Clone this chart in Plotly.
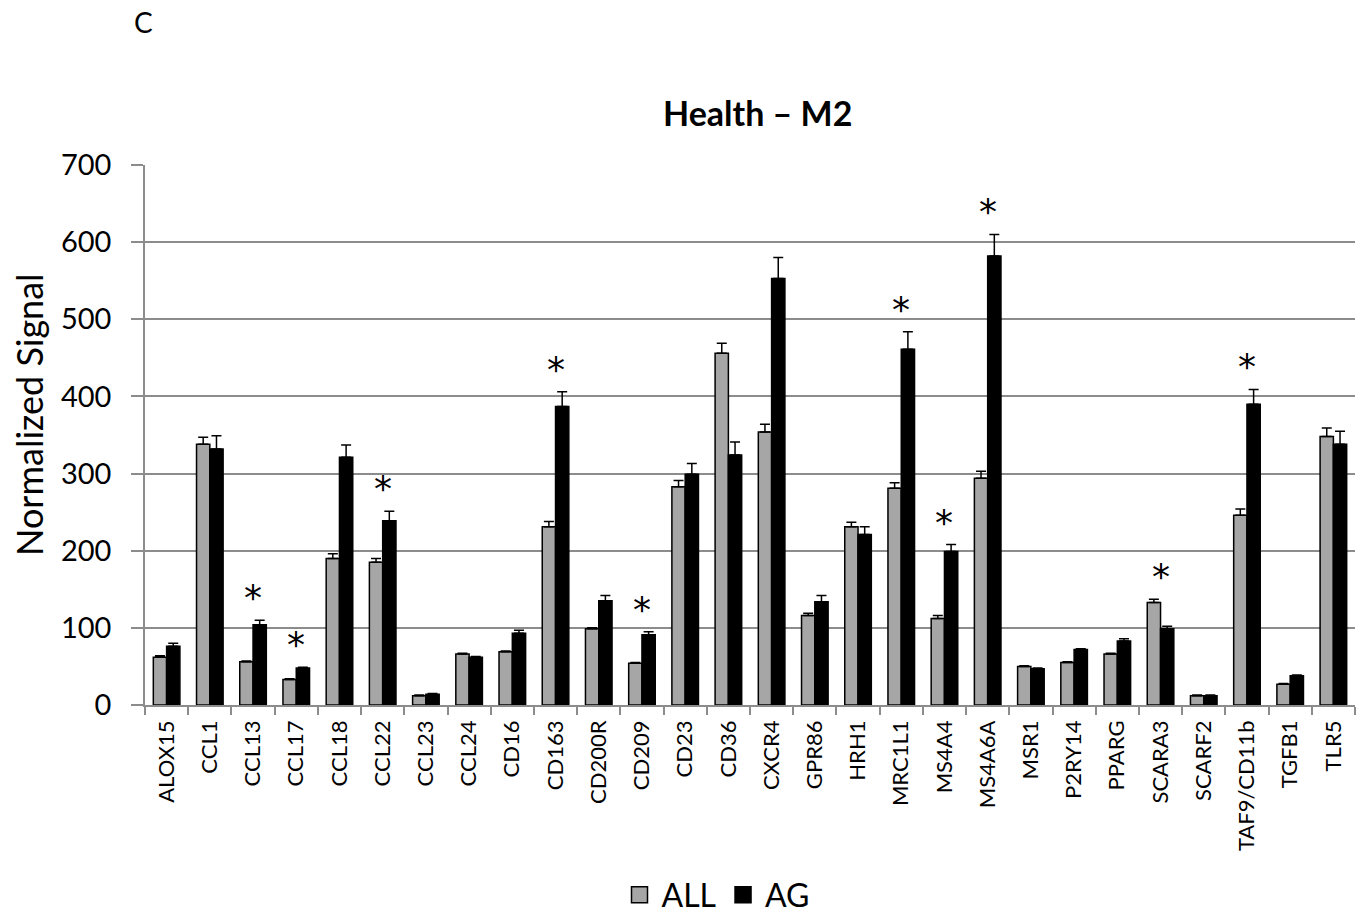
import plotly.graph_objects as go

genes = ["ALOX15", "CCL1", "CCL13", "CCL17", "CCL18", "CCL22", "CCL23", "CCL24", "CD16", "CD163",
         "CD200R", "CD209", "CD23", "CD36", "CXCR4", "GPR86", "HRH1", "MRC1L1", "MS4A4", "MS4A6A",
         "MSR1", "P2RY14", "PPARG", "SCARA3", "SCARF2", "TAF9/CD11b", "TGFB1", "TLR5"]
all_vals = [62, 338, 56, 33, 190, 185, 12, 66, 69, 231,
            99, 54, 283, 456, 354, 116, 231, 281, 112, 294,
            50, 55, 66, 133, 12, 246, 27, 348]
all_err = [2, 9, 1, 1, 6, 5, 1, 1, 1, 7,
           1, 1, 8, 13, 10, 3, 6, 7, 4, 9,
           1, 1, 1, 4, 1, 8, 1, 11]
ag_vals = [76, 332, 104, 48, 321, 239, 14, 62, 93, 387,
           135, 91, 299, 324, 553, 134, 221, 461, 199, 582,
           47, 72, 83, 99, 12, 390, 38, 338]
ag_err = [4, 17, 6, 1, 16, 12, 1, 1, 4, 19,
          7, 4, 14, 17, 27, 8, 10, 23, 9, 28,
          1, 1, 3, 3, 1, 19, 1, 17]
significant = ["CCL13", "CCL17", "CCL22", "CD163", "CD209", "MRC1L1", "MS4A4", "MS4A6A", "SCARA3", "TAF9/CD11b"]

FONT = "Lato, 'Open Sans', sans-serif"
GRID = "#8c8c8c"

W, H = 1364, 914
PL, PR, PT, PB = 145, 1355, 165, 705   # plot area in pixels
PW, PH = PR - PL, PB - PT


def px(xw):
    return (xw - PL) / PW


def py(yw):
    return (PB - yw) / PH


fig = go.Figure()
fig.add_trace(go.Bar(
    x=genes, y=all_vals, name="ALL", showlegend=False,
    marker=dict(color="#a6a6a6", line=dict(color="black", width=1.5)),
    error_y=dict(type="data", symmetric=False, array=all_err, arrayminus=[0] * len(all_err),
                 color="black", thickness=1.5, width=5),
))
fig.add_trace(go.Bar(
    x=genes, y=ag_vals, name="AG", showlegend=False,
    marker=dict(color="black", line=dict(color="black", width=1.5)),
    error_y=dict(type="data", symmetric=False, array=ag_err, arrayminus=[0] * len(ag_err),
                 color="black", thickness=1.5, width=5),
))
fig.add_trace(go.Scatter(x=[None], y=[None], mode="markers", name="ALL",
                         marker=dict(symbol="square", size=21, color="#a6a6a6",
                                     line=dict(color="black", width=1.5))))
fig.add_trace(go.Scatter(x=[None], y=[None], mode="markers", name="AG",
                         marker=dict(symbol="square", size=21, color="black",
                                     line=dict(color="black", width=1.5))))

for g in significant:
    i = genes.index(g)
    top = max(all_vals[i] + all_err[i], ag_vals[i] + ag_err[i])
    fig.add_annotation(x=g, y=top, text="*", showarrow=False, yanchor="bottom", yshift=0,
                       font=dict(size=36, color="black", family="DejaVu Sans"))

fig.add_annotation(xref="paper", yref="paper", x=px(143), y=py(22),
                   text="C", showarrow=False, xanchor="center", yanchor="middle",
                   font=dict(size=28, color="black", family=FONT))
fig.add_annotation(xref="paper", yref="paper", x=px(757), y=py(113),
                   text="<b>Health – M2</b>", showarrow=False, xanchor="center", yanchor="middle",
                   font=dict(size=34, color="black", family=FONT))
fig.add_annotation(xref="paper", yref="paper", x=px(29), y=py(415),
                   text="Normalized Signal", showarrow=False, textangle=-90,
                   xanchor="center", yanchor="middle",
                   font=dict(size=36, color="black", family=FONT))

fig.update_layout(
    width=W, height=H,
    margin=dict(l=PL, r=W - PR, t=PT, b=H - PB, autoexpand=False),
    paper_bgcolor="white", plot_bgcolor="white",
    barmode="group", bargap=0.385, bargroupgap=0,
    font=dict(family=FONT, color="black"),
    legend=dict(orientation="h", xref="paper", x=px(716), xanchor="center",
                yref="container", y=(H - 895) / H, yanchor="middle",
                font=dict(size=32, family=FONT, color="black"), itemwidth=34, tracegroupgap=0),
    xaxis=dict(type="category", showline=True, linecolor=GRID, linewidth=1.5, automargin=False,
               ticks="outside", tickson="boundaries", ticklen=8, tickcolor=GRID, tickwidth=1.5,
               tickangle=-90, tickfont=dict(size=22, family=FONT, color="black"),
               ticklabelstandoff=5,
               showgrid=False, range=[-0.5, len(genes) - 0.5]),
    yaxis=dict(range=[0, 700], dtick=100, showline=True, linecolor=GRID, linewidth=1.5, automargin=False,
               showgrid=True, gridcolor=GRID, gridwidth=1.5, zeroline=False,
               ticks="outside", ticklen=12, tickcolor=GRID, tickwidth=1.5,
               ticklabelstandoff=14,
               tickfont=dict(size=29, family=FONT, color="black")),
)

fig.write_html("out.html", config={"displayModeBar": False},
               post_script="document.body.style.margin='0';document.body.style.overflow='hidden';")
